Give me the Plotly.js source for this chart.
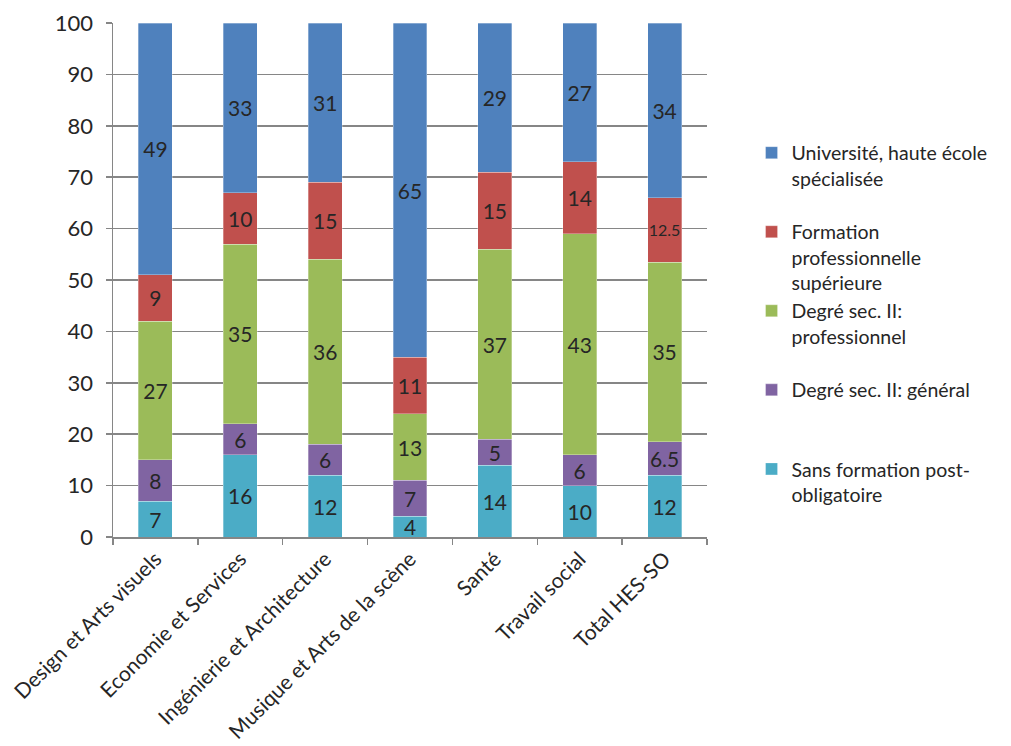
<!DOCTYPE html>
<html>
<head>
<meta charset="utf-8">
<script src="https://cdn.plot.ly/plotly-3.0.1.min.js"></script>
<style>html,body{margin:0;padding:0;background:#fff;}#chart{width:1011px;height:746px;}</style>
</head>
<body>
<div id="chart"></div>
<script>
const categories = ["Design et Arts visuels", "Economie et Services", "Ingénierie et Architecture", "Musique et Arts de la scène", "Santé", "Travail social", "Total HES-SO"];
const sansFormation = [7, 16, 12, 4, 14, 10, 12];
const secGeneral = [8, 6, 6, 7, 5, 6, 6.5];
const secPro = [27, 35, 36, 13, 37, 43, 35];
const formationSup = [9, 10, 15, 11, 15, 14, 12.5];
const universite = [49, 33, 31, 65, 29, 27, 34];
const seriesNames = [
  "Sans formation post-<br>obligatoire<br> ",
  "Degré sec. II: général<br> <br> ",
  "Degré sec. II:<br>professionnel<br> ",
  "Formation<br>professionnelle<br>supérieure",
  "Université, haute école<br>spécialisée<br> "
];
const seriesColors = ["#4BACC6", "#8064A2", "#9BBB59", "#C0504D", "#4F81BD"];
const seriesValues = [sansFormation, secGeneral, secPro, formationSup, universite];

const FONT = "Lato, 'Open Sans', sans-serif";
const traces = seriesValues.map((vals, i) => ({
  type: "bar",
  name: seriesNames[i],
  x: categories,
  y: vals,
  text: vals.map(v => String(v)),
  textposition: "inside",
  insidetextanchor: "middle",
  textangle: 0,
  constraintext: "none",
  textfont: {family: FONT, color: "#262626", size: vals.map(v => (v === 12.5 ? 16 : 21))},
  marker: {color: seriesColors[i], line: {color: "rgba(255,255,255,0.5)", width: 0.6}},
  hoverinfo: "x+y+name"
}));

const layout = {
  width: 1011, height: 746,
  margin: {l: 113, r: 304, t: 23, b: 209},
  barmode: "stack",
  bargap: 0.6,
  paper_bgcolor: "#fff",
  plot_bgcolor: "#fff",
  font: {family: FONT, color: "#262626", size: 20},
  showlegend: true,
  legend: {
    x: 1.075, xanchor: "left", y: 0.785, yanchor: "top",
    traceorder: "reversed",
    valign: "top",
    font: {family: FONT, size: 19.5, color: "#262626"},
    bgcolor: "rgba(0,0,0,0)",
    tracegroupgap: 0,
    itemwidth: 30
  },
  xaxis: {
    type: "category",
    tickangle: -45,
    showline: true, linecolor: "#868686", linewidth: 1.5,
    ticks: "outside", tickson: "boundaries", ticklen: 6, tickcolor: "#868686", tickwidth: 1.5,
    tickfont: {family: FONT, size: 21, color: "#262626"},
    showgrid: false
  },
  yaxis: {
    range: [0, 100], dtick: 10,
    showline: true, linecolor: "#868686", linewidth: 1.5,
    ticks: "outside", ticklen: 6, tickcolor: "#868686", tickwidth: 1.5,
    ticklabelstandoff: 8,
    showgrid: true, gridcolor: "#868686", gridwidth: 1.5,
    zeroline: false,
    tickfont: {family: FONT, size: 22, color: "#262626"}
  }
};

Plotly.newPlot("chart", traces, layout, {displayModeBar: false, staticPlot: true});
</script>
</body>
</html>
